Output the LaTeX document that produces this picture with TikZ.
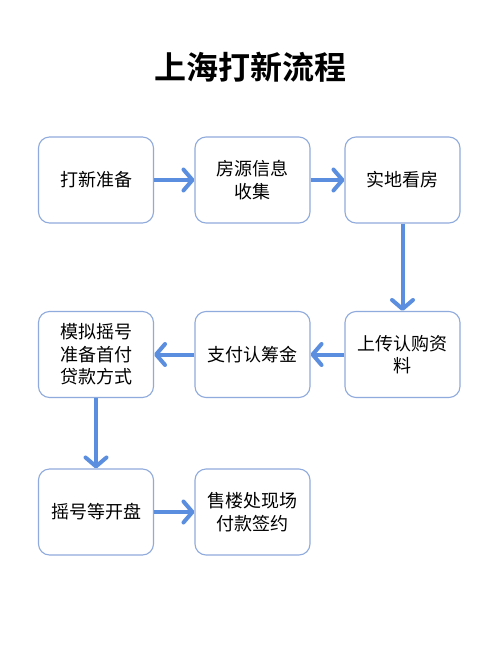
\documentclass[tikz,border=0pt]{standalone}
\usepackage{fontspec}
\newfontfamily\cjk{Noto Sans CJK SC}
\newfontfamily\cjkb{Noto Sans CJK SC Bold}
\usetikzlibrary{arrows.meta}
\tikzset{
  stepbox/.style={draw=boxblue, line width=1.1pt, rounded corners=11pt, fill=white,
    minimum width=115pt, minimum height=86pt, align=center, inner sep=0pt,
    font=\cjk\fontsize{18}{22.5}\selectfont, text=black},
  flow/.style={draw=arrowblue, line width=4pt,
    -{Straight Barb[length=9pt,width=21pt,line width=4pt,round]}},
}
\definecolor{boxblue}{HTML}{8FAADC}
\definecolor{arrowblue}{HTML}{5B8EDF}
\begin{document}
\begin{tikzpicture}[x=1pt,y=-1pt]
\useasboundingbox (0,0) rectangle (500,646);
\fill[white] (0,0) rectangle (500,646);
\node[font=\cjkb\fontsize{32}{36}\selectfont] (title) at (250,67) {上海打新流程};
\node[stepbox] (a) at (96,180) {打新准备};
\node[stepbox] (b) at (252.5,180) {房源信息\\收集};
\node[stepbox] (c) at (402.5,180) {实地看房};
\node[stepbox] (d) at (402.5,354.5) {上传认购资\\料};
\node[stepbox] (e) at (252.5,354.5) {支付认筹金};
\node[stepbox] (f) at (96,354.5) {模拟摇号\\准备首付\\贷款方式};
\node[stepbox] (g) at (96,512) {摇号等开盘};
\node[stepbox] (h) at (252.5,512) {售楼处现场\\付款签约};
\draw[flow] (a) -- (b);
\draw[flow] (b) -- (c);
\draw[flow] (c) -- (d);
\draw[flow] (d) -- (e);
\draw[flow] (e) -- (f);
\draw[flow] (f) -- (g);
\draw[flow] (g) -- (h);
\end{tikzpicture}
\end{document}
